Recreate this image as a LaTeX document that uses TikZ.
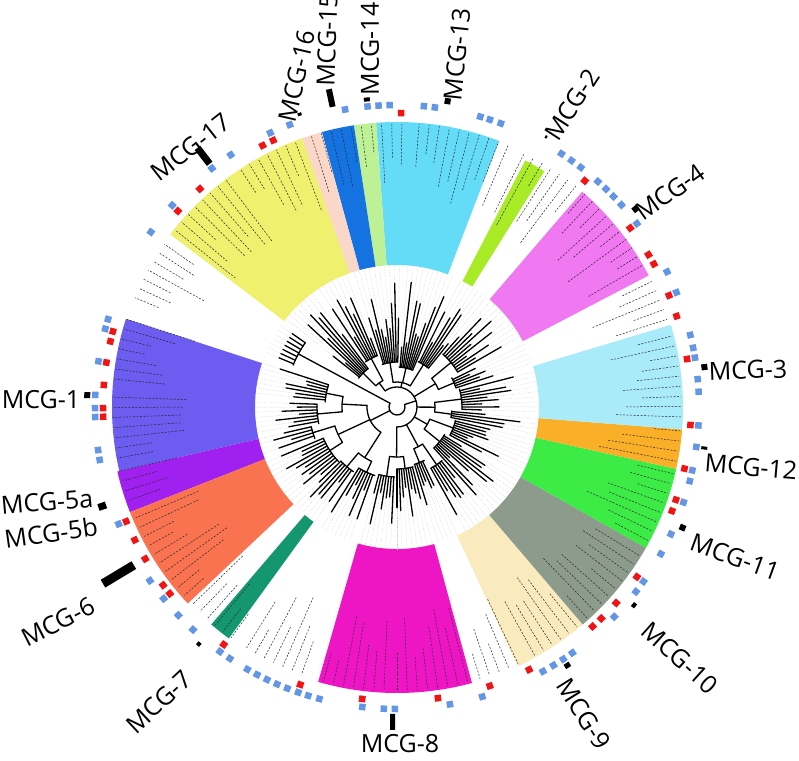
\documentclass[tikz,border=0pt]{standalone}
\usepackage{fontspec}
\setmainfont{Open Sans}
\definecolor{mcgone}{RGB}{108,92,240}
\definecolor{mcgfivea}{RGB}{160,32,240}
\definecolor{mcgsix}{RGB}{250,115,80}
\definecolor{mcgseven}{RGB}{20,150,110}
\definecolor{mcgeight}{RGB}{238,22,196}
\definecolor{mcgnine}{RGB}{250,235,190}
\definecolor{mcgten}{RGB}{140,155,140}
\definecolor{mcgeleven}{RGB}{60,235,70}
\definecolor{mcgtwelve}{RGB}{250,175,40}
\definecolor{mcgthree}{RGB}{170,235,250}
\definecolor{mcgfour}{RGB}{240,120,240}
\definecolor{mcgtwo}{RGB}{170,235,40}
\definecolor{mcgthirteen}{RGB}{100,220,248}
\definecolor{mcgfourteen}{RGB}{190,240,150}
\definecolor{mcgfifteen}{RGB}{20,115,225}
\definecolor{mcgsixteen}{RGB}{250,215,200}
\definecolor{mcgseventeen}{RGB}{238,240,110}
\definecolor{sqred}{RGB}{240,20,20}
\definecolor{sqblue}{RGB}{100,150,230}

\begin{document}
\begin{tikzpicture}[x=1pt, y=1pt,
    branch/.style={line width=1.3pt, black, line cap=round},
    dotline/.style={gray!45, line width=0.35pt, dash pattern=on 0.6pt off 1.2pt},
    leafdash/.style={black!85, line width=0.5pt, dash pattern=on 2pt off 1.5pt},
    mcg/.style={font=\fontsize{25}{30}\selectfont, inner sep=0pt}
  ]
    \useasboundingbox (-397,-353) rectangle (402,407);
    \fill[white] (-397,-353) rectangle (402,407);
    % Clade sectors
    \foreach \c/\a/\b/\r in {mcgone/162/193/285, mcgfivea/193/201.5/287,
        mcgsix/201.5/223.2/287, mcgseven/229.5/234/286, mcgeight/254/285.2/286,
        mcgnine/295/310.5/286, mcgten/310.5/330.5/286, mcgeleven/330.5/347.5/286,
        mcgtwelve/347.5/355.5/286, mcgthree/355.5/376.7/286, mcgfour/27.6/49.3/284,
        mcgtwo/58/62.5/278, mcgthirteen/69/94.2/285, mcgfourteen/94.2/98.7/285,
        mcgfifteen/98.7/105.3/285, mcgsixteen/105.3/109.5/285, mcgseventeen/109.5/142.7/285}
      \fill[\c] (\a:142) arc[start angle=\a, end angle=\b, radius=142]
        -- (\b:\r) arc[start angle=\b, end angle=\a, radius=\r] -- cycle;
    % Tree: root, two main groups and clades
    \pgfmathsetseed{7}
    \draw[branch] (151.7:8) arc[start angle=151.7, end angle=378, radius=8];
    \draw[branch] (151.7:8) -- (151.7:112);
    \draw[branch] (207:8) -- (207:30);
    \draw[branch] (177:30) arc[start angle=177, end angle=237.5, radius=30];
    \draw[branch] (378:8) -- (378:20);
    \draw[branch] (269.5:20) arc[start angle=269.5, end angle=486, radius=20];
    \foreach \a/\b/\rc/\rh in {169/185/55/30, 197/213/65/30, 230/245/60/30,
        261.5/277.5/50/20, 292/304.5/45/20, 321/339.5/35/20, 352.5/367/38/20,
        383/399.5/45/20, 418/459/25/20, 478/495/30/20}{
      \pgfmathsetmacro\m{(\a+\b)/2}
      \draw[branch] (\m:\rh) -- (\m:\rc);
      \draw[branch] (\a:\rc) arc[start angle=\a, end angle=\b, radius=\rc];
    }
    % Subclades and leaves
    \foreach \a/\b/\rp/\rs in {162/176/55/72, 178/192/55/80, 193/201/65/88,
        203/223/65/80, 224/236/60/78, 238/252/60/72, 255/268/50/70, 270/285/50/62,
        287/297/45/60, 299/310/45/70, 312/330/35/55, 332/347/35/60, 349/356/38/55,
        358/376/38/65, 378/388/45/62, 390/409/45/70, 411/425/25/50, 427/447/25/40,
        449/469/25/45, 471/485/30/55, 487/503/30/48, 505/518/112/112}{
      \pgfmathsetmacro\m{(\a+\b)/2}
      \draw[branch] (\m:\rp) -- (\m:\rs);
      \draw[branch] (\a:\rs) arc[start angle=\a, end angle=\b, radius=\rs];
      \pgfmathsetmacro\ab{\a+2.06}
      \foreach \t in {\a,\ab,...,\b}{
        \pgfmathsetmacro\rt{\rs+16+rnd*(128-\rs-16)}
        \pgfmathsetmacro\rd{205+rnd*55}
        \draw[branch] (\t:\rs) -- (\t:\rt);
        \draw[dotline] (\t:\rt) -- (\t:142);
        \draw[leafdash] (\t:\rd) -- (\t:284);
      }
    }
    % Red squares
    \foreach \a in {138.2, 132.1, 117.2, 114.9, 89.2, 50.3, 37.5, 31.2,
        29.1, 22.3, 18, 9.4, -3.5, -12.1, -18.4, -20.7, -35.3, -41.8, -46, -48.3,
        -63.3, 288.4, 278, 263.2, 250.8, 233.9, 219.4, 217.3, 211.1, 206.9, 202.9,
        181.9, 180.2, 175.7, 171.3, 167.1, 165.1}
      \fill[sqred, shift={(\a:294)}, rotate=\a] (-3.25,-3.25) rectangle (3.25,3.25);
    % Blue squares
    \foreach \a in {144.6, 138.1, 127.8, 123.4, 114.8, 110.8, 99.9, 95.6,
        93.5, 91.4, 84.9, 82.8, 74, 72.1, 69.9, 57, 54.7, 52.5, 48.3, 46.2, 44.2, 42,
        37.4, 26.6, 22.3, 13.8, 11.3, 9.4, 5.3, 2.9, -3.5, -7.6, -12.1, -14.2, -18.4,
        -24.9, -29.1, -35.3, -37.7, -44, -54.5, -56.6, -58.8, -61.1, 286.4, 280.1,
        269.6, 267.5, 263.4, 255.1, 252.9, 250.9, 248.7, 246.6, 244.5, 242.4, 240.3,
        236.4, 234.1, 227.5, 223.6, 219.4, 215.1, 202.8, 190.1, 188.2, 181.9, 180.2,
        177.7, 171.3, 165, 163.1}
      \fill[sqblue, shift={(\a:302)}, rotate=\a] (-3.25,-3.25) rectangle (3.25,3.25);
    % Black bars
    \foreach \a/\l/\w in {211/36/9pt, 198.6/8/7pt, 177.8/6/6pt, 127.6/20/7pt,
        108.4/3/4pt, 102.1/18/6pt, 95.6/4/6pt, 80.6/6/6pt, 61.1/3/2pt, 39.7/5/6pt,
        7.4/6/6pt, -7.6/6/3pt, -22.9/6/6pt, -39.9/4/5pt, -56.6/5/6pt, 269.2/16/5pt,
        230.1/4/4pt}
      \draw[line width=\w] ({\a}:307) -- ({\a}:{307+\l});
    % Group labels
    \node[mcg] (lblone) at (-356,7) {MCG-1};
    \node[mcg, rotate=5] (lblfivea) at (-350,-95) {MCG-5a};
    \node[mcg, rotate=8] (lblfiveb) at (-346,-126) {MCG-5b};
    \node[mcg, rotate=27] (lblsix) at (-339,-215) {MCG-6};
    \node[mcg, rotate=43] (lblseven) at (-238,-295) {MCG-7};
    \node[mcg] (lbleight) at (3,-337) {MCG-8};
    \node[mcg, rotate=-58] (lblnine) at (187,-307) {MCG-9};
    \node[mcg, rotate=-42] (lblten) at (283,-251) {MCG-10};
    \node[mcg, rotate=-20] (lbleleven) at (338,-150) {MCG-11};
    \node[mcg, rotate=-5] (lbltwelve) at (354,-60) {MCG-12};
    \node[mcg, rotate=2] (lblthree) at (351,37) {MCG-3};
    \node[mcg, rotate=35] (lblfour) at (273,215) {MCG-4};
    \node[mcg, rotate=57] (lbltwo) at (175,302) {MCG-2};
    \node[mcg, rotate=84] (lblthirteen) at (60,353) {MCG-13};
    \node[mcg, rotate=90] (lblfourteen) at (-27,358) {MCG-14};
    \node[mcg, rotate=88] (lblfifteen) at (-70,367) {MCG-15};
    \node[mcg, rotate=77] (lblsixteen) at (-100,331) {MCG-16};
    \node[mcg, rotate=38] (lblseventeen) at (-206,260) {MCG-17};
  \end{tikzpicture}
\end{document}
